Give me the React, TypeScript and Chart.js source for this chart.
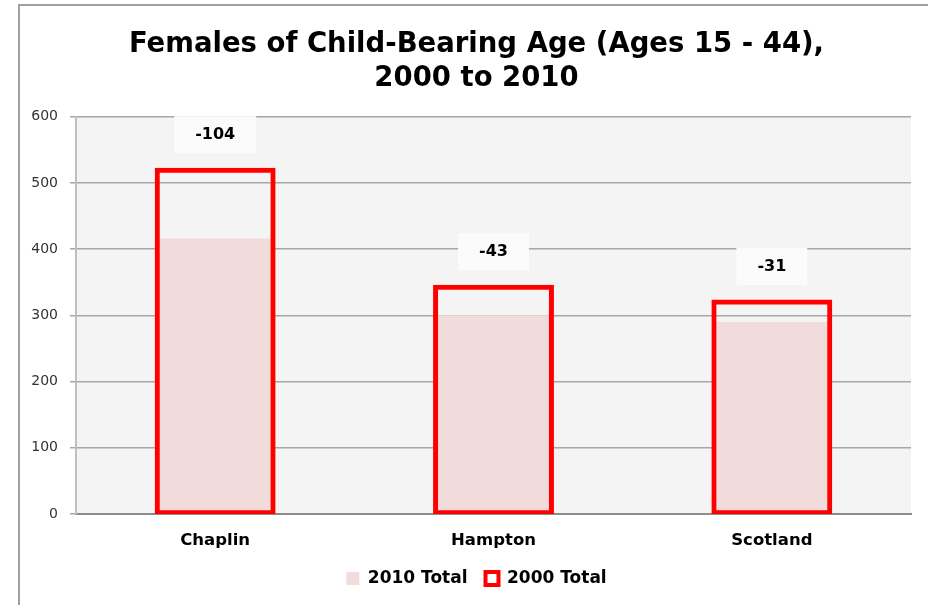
import React, { useEffect, useRef } from "react";
import { Chart, registerables } from "chart.js";

Chart.register(...registerables);

const categories = ["Chaplin", "Hampton", "Scotland"];
const total2010 = [416, 300, 290];
const total2000 = [520, 343, 321];
const titleLines = ["Females of Child-Bearing Age (Ages 15 - 44),", "2000 to 2010"];
const yTicks = [0, 100, 200, 300, 400, 500, 600];

const FONT = "'DejaVu Sans', sans-serif";

const plotBg = {
  id: "plotBg",
  beforeDraw(chart: any) {
    const { ctx, chartArea } = chart;
    if (!chartArea) return;
    ctx.save();
    ctx.fillStyle = "#f4f4f4";
    ctx.fillRect(chartArea.left, chartArea.top, chartArea.right - chartArea.left, chartArea.bottom - chartArea.top);
    ctx.restore();
  },
};

const diffLabels = {
  id: "diffLabels",
  afterDatasetsDraw(chart: any) {
    const { ctx } = chart;
    const meta = chart.getDatasetMeta(1);
    ctx.save();
    ctx.font = `bold 16px ${FONT}`;
    ctx.textAlign = "center";
    ctx.textBaseline = "middle";
    meta.data.forEach((bar: any, i: number) => {
      const text = String(total2010[i] - total2000[i]);
      const cx = bar.x;
      const cy = bar.y - 35;
      const w = ctx.measureText(text).width + 42;
      const h = 37;
      ctx.fillStyle = "#fbfbfb";
      ctx.fillRect(cx - w / 2, cy - h / 2, w, h);
      ctx.fillStyle = "#000";
      ctx.fillText(text, cx, cy);
    });
    ctx.restore();
  },
};

export default function App() {
  const ref = useRef<HTMLCanvasElement>(null);
  useEffect(() => {
    if (!ref.current) return;
    const chart = new Chart(ref.current, {
      type: "bar",
      data: {
        labels: categories,
        datasets: [
          {
            label: "2010 Total",
            data: total2010,
            backgroundColor: "#f2dcdb",
            borderWidth: 0,
            grouped: false,
            order: 1,
            barPercentage: 0.42,
            categoryPercentage: 1,
          },
          {
            label: "2000 Total",
            data: total2000,
            backgroundColor: "rgba(0,0,0,0)",
            borderColor: "#ff0000",
            borderWidth: 1,
            borderSkipped: false,
            inflateAmount: 2,
            grouped: false,
            order: 0,
            barPercentage: 0.42,
            categoryPercentage: 1,
          },
        ] as any,
      },
      options: {
        responsive: false,
        animation: false,
        layout: { padding: { left: 42, right: 17, top: 0, bottom: 8 } },
        plugins: {
          tooltip: { enabled: false },
          title: {
            display: true,
            text: titleLines,
            color: "#000",
            font: { family: FONT, size: 27.5, weight: "bold", lineHeight: 1.23 },
            padding: { top: 28, bottom: 21 },
          },
          legend: {
            position: "bottom",
            labels: {
              color: "#000",
              font: { family: FONT, size: 17, weight: "bold" },
              boxWidth: 13,
              boxHeight: 13,
              padding: 18,
              generateLabels: (c: any) =>
                c.data.datasets.map((ds: any, i: number) => ({
                  text: ds.label,
                  fillStyle: i === 0 ? "#f2dcdb" : "#ffffff",
                  strokeStyle: i === 0 ? "#f2dcdb" : "#ff0000",
                  lineWidth: i === 0 ? 0 : 4,
                  hidden: false,
                  datasetIndex: i,
                  fontColor: "#000",
                })),
            },
          },
        },
        scales: {
          x: {
            grid: { display: false },
            border: { display: true, color: "#8c8c8c", width: 2 },
            ticks: {
              color: "#000",
              font: { family: FONT, size: 16.5, weight: "bold" },
              padding: 9,
            },
            afterFit: (scale: any) => {
              scale.height = 38;
            },
          },
          y: {
            min: 0,
            max: 600,
            afterBuildTicks: (axis: any) => {
              axis.ticks = yTicks.map((v) => ({ value: v }));
            },
            afterFit: (scale: any) => {
              scale.width = 34;
              scale._computeLabelArea = () => undefined;
            },
            grid: { color: "#a6a6a6", lineWidth: 1.5, tickLength: 6, drawTicks: true },
            border: { display: true, color: "#bfbfbf", width: 2 },
            ticks: {
              color: "#333",
              font: { family: FONT, size: 14 },
              padding: 12,
            },
          },
        },
      } as any,
      plugins: [plotBg, diffLabels],
    });
    return () => chart.destroy();
  }, []);
  return (
    <div style={{ position: "fixed", left: 0, top: 0, width: 928, height: 605, overflow: "hidden", background: "#fff" }}>
      <div
        style={{
          position: "absolute",
          left: 18,
          top: 4,
          width: 940,
          height: 700,
          border: "2px solid #a0a0a0",
        }}
      />
      <canvas ref={ref} width={928} height={605} style={{ position: "absolute", left: 0, top: 0 }} />
    </div>
  );
}
